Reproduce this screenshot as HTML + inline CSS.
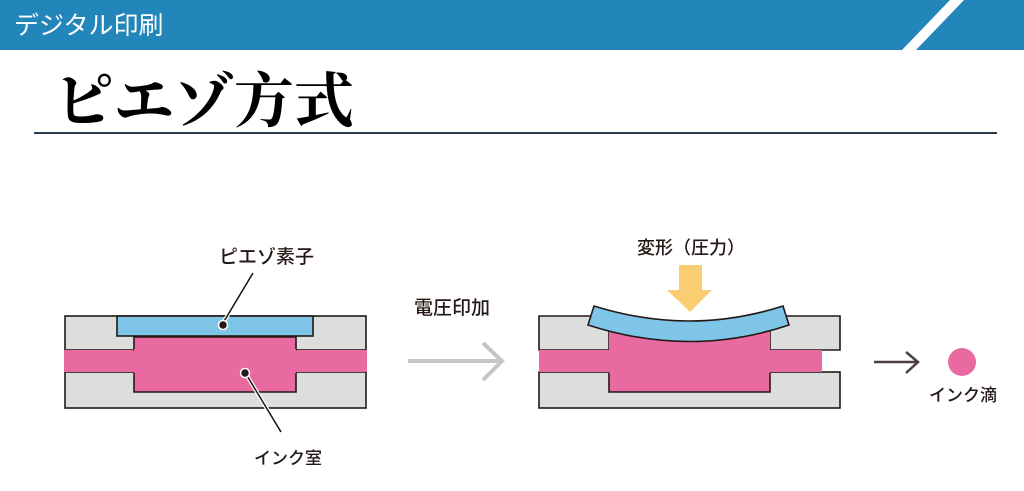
<!DOCTYPE html>
<html><head><meta charset="utf-8"><style>
body{margin:0;width:1024px;height:491px;background:#fff;overflow:hidden;position:relative;font-family:"Liberation Sans","Noto Sans CJK JP",sans-serif}
</style></head><body>
<svg width="1024" height="491" viewBox="0 0 1024 491" style="position:absolute;left:0;top:0">
<rect x="0" y="0" width="1024" height="50" fill="#2386bb"/>
<polygon points="902,50 916,50 964,0 950,0" fill="#fff"/>
<text x="14" y="34" font-size="25" fill="#fff" font-family="Noto Sans CJK JP, sans-serif">デジタル印刷</text>
<text x="54" y="122" font-size="60" font-weight="bold" fill="#000" font-family="Noto Serif CJK SC, serif">ピエゾ方式</text>
<rect x="34" y="132" width="963" height="2" fill="#2c3a4e"/>

<g stroke="#231815" stroke-width="1.6">
<!-- left -->
<rect x="65" y="316" width="301" height="34" fill="#dcdddd"/>
<rect x="65" y="372" width="301" height="36" fill="#dcdddd"/>
<rect x="64" y="350" width="303" height="22" fill="#e96aa1" stroke="none"/>
<path d="M134,350 V337 H296 V350 Z" fill="#e96aa1"/>
<path d="M134,372 V392 H296 V372" fill="#e96aa1"/>
<rect x="134" y="349" width="162" height="24" fill="#e96aa1" stroke="none"/>
<rect x="117" y="316" width="196" height="20" fill="#7fc5e8"/>
<!-- right -->
<path d="M609,316 H539 V350 H609 Z" fill="#dcdddd"/>
<path d="M770,316 H840 V350 H770 Z" fill="#dcdddd"/>
<rect x="539" y="372" width="301" height="36" fill="#dcdddd"/>
<rect x="539" y="350" width="283" height="22" fill="#e96aa1" stroke="none"/>
<path d="M609,372 V392 H770 V372" fill="#e96aa1"/>
<rect x="609" y="324" width="161" height="49" fill="#e96aa1" stroke="none"/>
<path d="M594,306 Q690,336 783,306 L789,325 Q690,358 588,325 Z" fill="#7fc5e8"/>
</g>
<polygon points="679,265 702,265 702,290 712,290 690,312 667,290 679,290" fill="#f9cd72"/>

<!-- leaders -->
<line x1="253" y1="273" x2="223" y2="323" stroke="#fff" stroke-width="4"/>
<line x1="253" y1="273" x2="223" y2="323" stroke="#231815" stroke-width="1.6"/>
<circle cx="223" cy="325" r="4.5" fill="#231815" stroke="#fff" stroke-width="1.5"/>
<line x1="246" y1="374" x2="281" y2="432" stroke="#fff" stroke-width="4"/>
<line x1="246" y1="374" x2="281" y2="432" stroke="#231815" stroke-width="1.6"/>
<circle cx="245" cy="373" r="4.5" fill="#231815" stroke="#fff" stroke-width="1.5"/>

<!-- arrows -->
<g stroke="#c9c5c5" stroke-width="4" fill="none">
<line x1="408" y1="361" x2="502" y2="361"/>
<polyline points="483,343 502,361 483,380"/>
</g>
<g stroke="#4a3f44" stroke-width="2.5" fill="none">
<line x1="874" y1="362" x2="918" y2="362"/>
<polyline points="906,352 918,362 906,373"/>
</g>
<circle cx="962" cy="362" r="14" fill="#e96aa1"/>

<g font-size="18" fill="#231815" font-family="Noto Sans CJK JP, sans-serif" font-weight="500">
<text x="219" y="263" font-size="19">ピエゾ素子</text>
<text x="254" y="464" font-size="17">インク室</text>
<text x="414" y="314" font-size="19">電圧印加</text>
<text x="637" y="254" font-size="18">変形（圧力）</text>
<text x="929" y="401" font-size="17">インク滴</text>
</g>
</svg>
</body></html>
